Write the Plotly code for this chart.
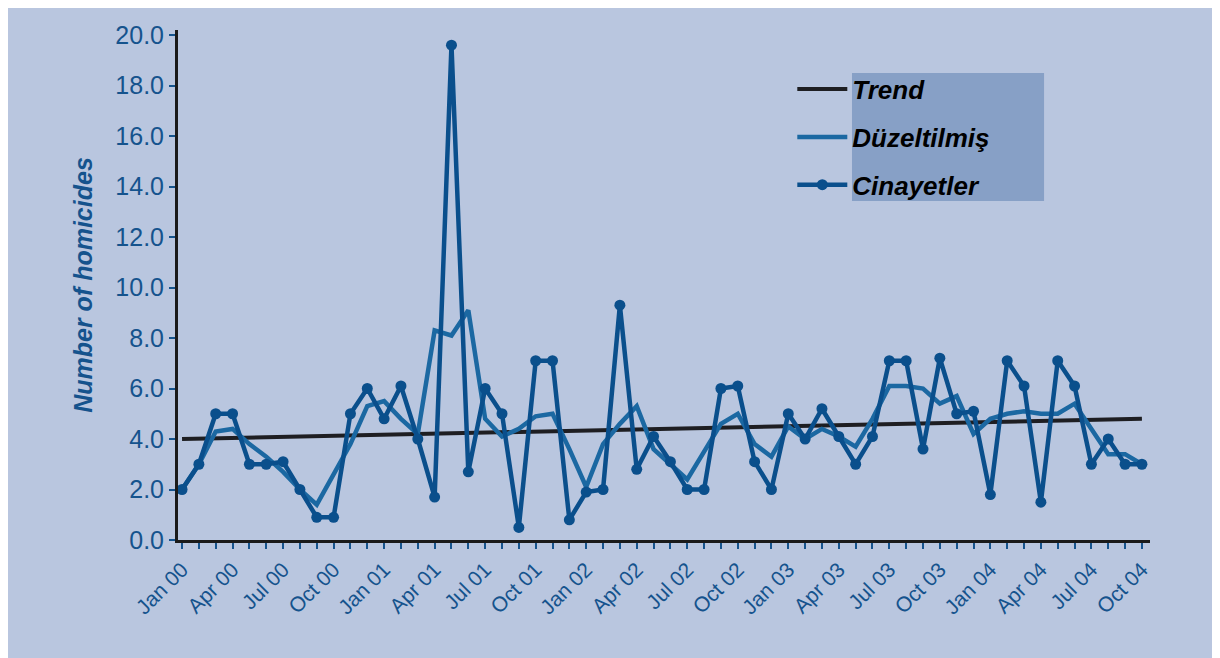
import plotly.graph_objects as go

# monthly series, Jan 2000 .. Oct 2004 (58 months)
month_index = list(range(58))

cinayetler = [2.0, 3.0, 5.0, 5.0, 3.0, 3.0, 3.1, 2.0, 0.9, 0.9,
              5.0, 6.0, 4.8, 6.1, 4.0, 1.7, 19.6, 2.7, 6.0, 5.0,
              0.5, 7.1, 7.1, 0.8, 1.9, 2.0, 9.3, 2.8, 4.1, 3.1,
              2.0, 2.0, 6.0, 6.1, 3.1, 2.0, 5.0, 4.0, 5.2, 4.1,
              3.0, 4.1, 7.1, 7.1, 3.6, 7.2, 5.0, 5.1, 1.8, 7.1,
              6.1, 1.5, 7.1, 6.1, 3.0, 4.0, 3.0, 3.0]

duzeltilmis = [2.0, 3.0, 4.3, 4.4, 3.8, 3.3, 2.7, 2.0, 1.4, 2.6,
               3.8, 5.3, 5.5, 4.8, 4.2, 8.3, 8.1, 9.1, 4.8, 4.1,
               4.4, 4.9, 5.0, 3.6, 2.1, 3.8, 4.6, 5.3, 3.6, 3.0,
               2.4, 3.5, 4.6, 5.0, 3.8, 3.3, 4.5, 4.0, 4.4, 4.1,
               3.7, 4.8, 6.1, 6.1, 6.0, 5.4, 5.7, 4.2, 4.8, 5.0,
               5.1, 5.0, 5.0, 5.4, 4.4, 3.4, 3.4, 3.0]

# linear trend: first and last month
trend_x = [0, 57]
trend_y = [4.0, 4.8]

tick_pos = list(range(0, 58, 3))
tick_labels = ['Jan 00', 'Apr 00', 'Jul 00', 'Oct 00',
               'Jan 01', 'Apr 01', 'Jul 01', 'Oct 01',
               'Jan 02', 'Apr 02', 'Jul 02', 'Oct 02',
               'Jan 03', 'Apr 03', 'Jul 03', 'Oct 03',
               'Jan 04', 'Apr 04', 'Jul 04', 'Oct 04']

bg = '#b9c6df'
blue_txt = '#15538d'
font = 'Liberation Sans, Arial, sans-serif'

fig = go.Figure()
fig.add_trace(go.Scatter(x=trend_x, y=trend_y, name='Trend', mode='lines',
                         legendgroup='a',
                         line=dict(color='#1e1e22', width=4)))
fig.add_trace(go.Scatter(x=month_index, y=duzeltilmis, name='Düzeltilmiş',
                         mode='lines', legendgroup='b',
                         line=dict(color='#1b68a2', width=4.5)))
fig.add_trace(go.Scatter(x=month_index, y=cinayetler, name='Cinayetler',
                         mode='lines+markers', legendgroup='c',
                         line=dict(color='#0a4f8c', width=4.5),
                         marker=dict(size=11, color='#0a4f8c')))

# box behind the legend texts
fig.add_shape(type='rect', xref='paper', yref='paper', layer='below',
              x0=0.6934, x1=0.891, y0=0.6647, y1=0.9157,
              fillcolor='#87a0c6', line=dict(width=0))

fig.update_layout(
    width=1220, height=658,
    margin=dict(l=170, r=78, t=22, b=126),
    paper_bgcolor=bg, plot_bgcolor=bg,
    font=dict(family=font, color=blue_txt),
    legend=dict(x=0.632, y=0.93, xanchor='left', yanchor='top',
                bgcolor='rgba(0,0,0,0)', tracegroupgap=11, itemwidth=50,
                font=dict(family=font, size=26, color='black',
                          weight='bold', style='italic')),
)

fig.update_xaxes(range=[-0.24, 57.48], tickmode='array', tickvals=tick_pos,
                 ticktext=tick_labels, tickangle=-45,
                 tickfont=dict(size=21, color=blue_txt),
                 ticks='outside', ticklen=6, tickwidth=2, tickcolor=blue_txt,
                 minor=dict(tickmode='linear', tick0=0, dtick=1, ticks='outside',
                            ticklen=6, tickwidth=2, tickcolor=blue_txt),
                 showline=True, linecolor='#1a1a1a', linewidth=3,
                 showgrid=False, zeroline=False)

fig.update_yaxes(range=[0, 20.2], tickmode='array',
                 tickvals=list(range(0, 21, 2)), tickformat='.1f',
                 tickfont=dict(size=25, color=blue_txt),
                 ticks='outside', ticklen=6, tickwidth=2, tickcolor=blue_txt,
                 showline=True, linecolor='#1a1a1a', linewidth=3,
                 showgrid=False, zeroline=False,
                 title=dict(text='Number of homicides', standoff=16,
                            font=dict(size=25, color=blue_txt,
                                      weight='bold', style='italic')))

fig.write_html("out.html")
